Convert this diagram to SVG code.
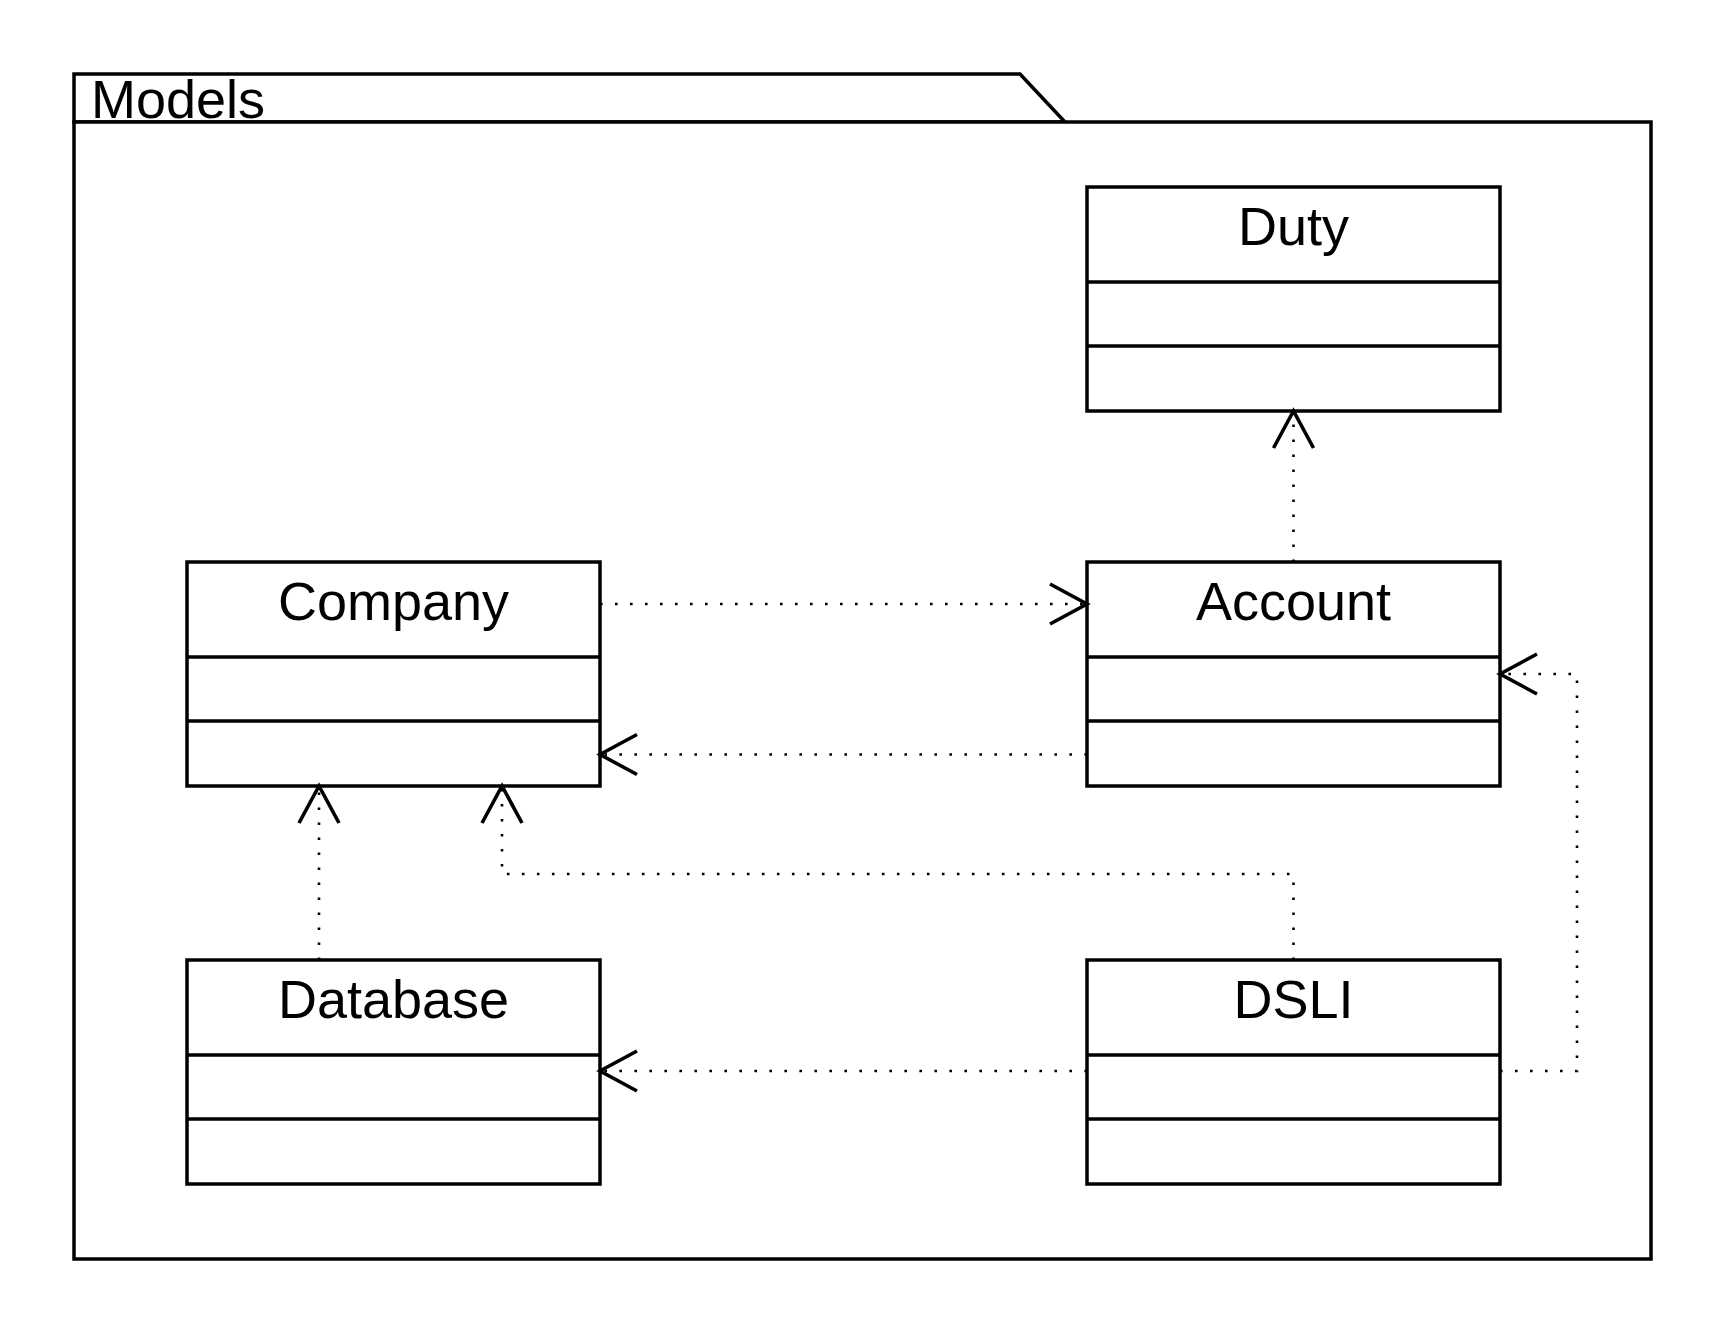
<svg xmlns="http://www.w3.org/2000/svg" width="1725" height="1335" viewBox="0 0 1725 1335">
<style>
  .box { fill: #ffffff; stroke: #000000; stroke-width: 3.5; }
  .sep { stroke: #000000; stroke-width: 3.5; fill: none; }
  .title { font-family: "Liberation Sans", Arial, sans-serif; font-size: 54px; fill: #000000; text-anchor: middle; }
  .pkg { fill: #ffffff; stroke: #000000; stroke-width: 3.5; }
  .pkgtext { font-family: "Liberation Sans", Arial, sans-serif; font-size: 54px; fill: #000000; }
  .dep { fill: none; stroke: #000000; stroke-width: 2.6; stroke-dasharray: 2.6 12.4; marker-end: url(#open); }
</style>
<defs>
  <marker id="open" markerUnits="userSpaceOnUse" markerWidth="60" markerHeight="60" viewBox="-45 -30 60 60" refX="0" refY="0" orient="auto" overflow="visible">
    <path d="M -37 -20 L 0 0 L -37 20" fill="none" stroke="#000000" stroke-width="3.6" stroke-dasharray="none"/>
  </marker>
</defs>
<rect width="1725" height="1335" fill="#ffffff"/>
<g id="package-models">
  <path class="pkg" d="M 74 122 L 74 74 L 1020 74 L 1065 122 Z"/>
  <rect class="pkg" x="74" y="122" width="1577" height="1137"/>
  <text class="pkgtext" x="91" y="118">Models</text>
</g>
<g id="duty">
  <rect class="box" x="1087" y="187" width="413" height="224"/>
  <line class="sep" x1="1087" y1="282" x2="1500" y2="282"/>
  <line class="sep" x1="1087" y1="346" x2="1500" y2="346"/>
  <text class="title" x="1293.5" y="245">Duty</text>
</g>
<g id="company">
  <rect class="box" x="187" y="562" width="413" height="224"/>
  <line class="sep" x1="187" y1="657" x2="600" y2="657"/>
  <line class="sep" x1="187" y1="721" x2="600" y2="721"/>
  <text class="title" x="393.5" y="620">Company</text>
</g>
<g id="account">
  <rect class="box" x="1087" y="562" width="413" height="224"/>
  <line class="sep" x1="1087" y1="657" x2="1500" y2="657"/>
  <line class="sep" x1="1087" y1="721" x2="1500" y2="721"/>
  <text class="title" x="1293.5" y="620">Account</text>
</g>
<g id="database">
  <rect class="box" x="187" y="960" width="413" height="224"/>
  <line class="sep" x1="187" y1="1055" x2="600" y2="1055"/>
  <line class="sep" x1="187" y1="1119" x2="600" y2="1119"/>
  <text class="title" x="393.5" y="1018">Database</text>
</g>
<g id="dsli">
  <rect class="box" x="1087" y="960" width="413" height="224"/>
  <line class="sep" x1="1087" y1="1055" x2="1500" y2="1055"/>
  <line class="sep" x1="1087" y1="1119" x2="1500" y2="1119"/>
  <text class="title" x="1293.5" y="1018">DSLI</text>
</g>
<g id="connectors">
  <path class="dep" d="M 1293.5 562 L 1293.5 411"/>
  <path class="dep" d="M 600 604 L 1087 604"/>
  <path class="dep" d="M 1087 754.5 L 600 754.5"/>
  <path class="dep" d="M 319 960 L 319 786"/>
  <path class="dep" d="M 1293.5 960 L 1293.5 874 L 502 874 L 502 786"/>
  <path class="dep" d="M 1087 1071 L 600 1071"/>
  <path class="dep" d="M 1500 1071 L 1577 1071 L 1577 674 L 1500 674"/>
</g>
</svg>
